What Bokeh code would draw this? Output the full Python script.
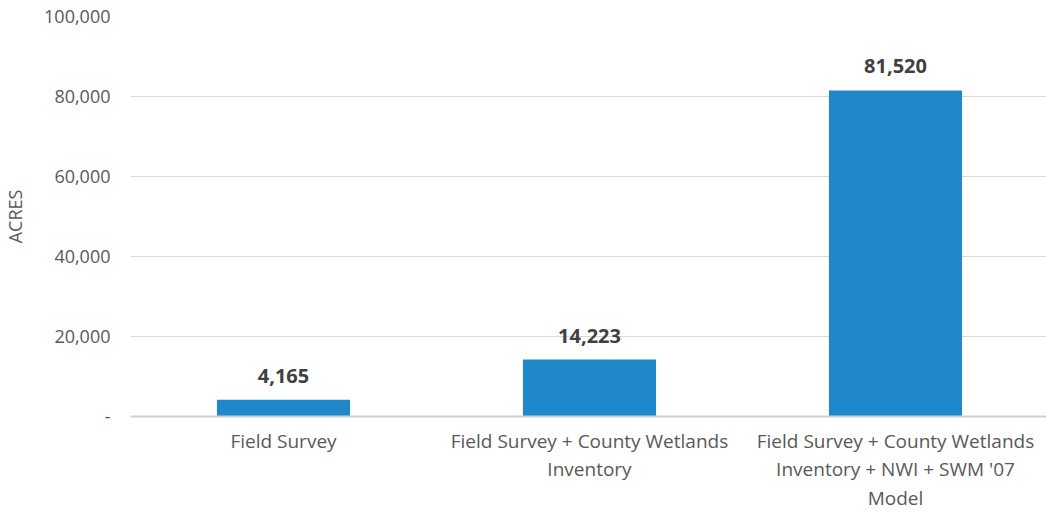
from bokeh.plotting import figure
from bokeh.models import ColumnDataSource, NumeralTickFormatter, FixedTicker, Range1d
from bokeh.core.properties import value
from bokeh.embed import file_html
from bokeh.resources import INLINE

categories = ["Field Survey",
              "Field Survey + County Wetlands Inventory",
              "Field Survey + County Wetlands Inventory + NWI + SWM '07 Model"]
category_labels = ["Field Survey",
                   "Field Survey + County Wetlands\nInventory",
                   "Field Survey + County Wetlands\nInventory + NWI + SWM '07\nModel"]
acres = [4165, 14223, 81520]
y_ticks = [0, 20000, 40000, 60000, 80000, 100000]

FONT = "Open Sans"
src = ColumnDataSource(dict(cat=category_labels, name=categories, val=acres,
                            lab=[f"{v:,}" for v in acres]))

p = figure(x_range=category_labels, y_range=Range1d(0, 100000),
           width=1046, height=512, output_backend="svg", toolbar_location=None,
           min_border_left=0, min_border_right=0, min_border_top=16, min_border_bottom=0)
p.frame_width = 918
p.frame_height = 400
p.outline_line_color = None
p.background_fill_color = "white"
p.border_fill_color = "white"

p.vbar(x="cat", top="val", width=0.435, source=src, fill_color="#1F88CA",
       line_color=None)
p.text(x="cat", y="val", text="lab", source=src, text_align="center",
       text_baseline="bottom", y_offset=-17, text_font=value(FONT),
       text_font_style="bold", text_font_size="20px", text_color="#404040")

p.xgrid.grid_line_color = None
p.ygrid.grid_line_color = "#d9d9d9"
p.ygrid.grid_line_width = 1
p.yaxis.ticker = FixedTicker(ticks=y_ticks)
p.yaxis.formatter = NumeralTickFormatter(format="0,0")
p.yaxis.major_label_overrides = {0: "-"}
p.yaxis.axis_line_color = None
p.yaxis.major_tick_line_color = None
p.yaxis.minor_tick_line_color = None
p.yaxis.major_label_text_font = FONT
p.yaxis.major_label_text_font_size = "18px"
p.yaxis.major_label_text_color = "#595959"
p.yaxis.major_label_standoff = 14
p.yaxis.axis_label = "ACRES"
p.yaxis.axis_label_text_font = FONT
p.yaxis.axis_label_text_font_size = "18px"
p.yaxis.axis_label_text_font_style = "normal"
p.yaxis.axis_label_text_color = "#595959"
p.yaxis.axis_label_standoff = 14

p.xaxis.axis_line_color = "#d0d0d0"
p.xaxis.axis_line_width = 2
p.xaxis.major_tick_line_color = None
p.xaxis.minor_tick_line_color = None
p.xaxis.major_label_text_font = FONT
p.xaxis.major_label_text_font_size = "19px"
p.xaxis.major_label_text_color = "#595959"
p.xaxis.major_label_standoff = 5
p.xaxis.major_label_text_line_height = 1.1

open("out.html", "w").write(file_html(p, INLINE))
